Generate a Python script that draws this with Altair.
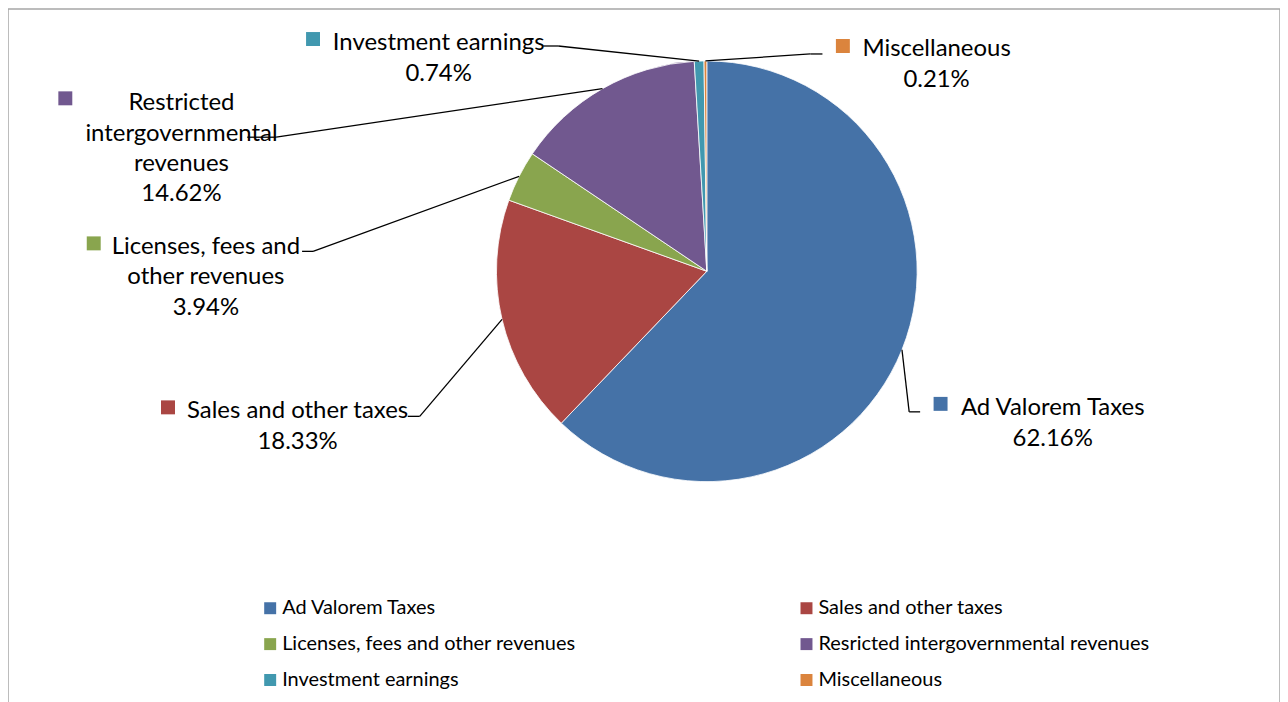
import altair as alt
import pandas as pd

# ---------------- data ----------------
categories = [
    "Ad Valorem Taxes",
    "Sales and other taxes",
    "Licenses, fees and other revenues",
    "Resricted intergovernmental revenues",
    "Investment earnings",
    "Miscellaneous",
]
shares = [62.16, 18.33, 3.94, 14.62, 0.74, 0.21]
label_names = [
    "Ad Valorem Taxes",
    "Sales and other taxes",
    "Licenses, fees and\nother revenues",
    "Restricted\nintergovernmental\nrevenues",
    "Investment earnings",
    "Miscellaneous",
]
colors = ["#4572A7", "#AA4643", "#89A54E", "#71588F", "#4198AF", "#DB843D"]

# ---------------- layout (page pixels) ----------------
OFF = 8
PIE_CX, PIE_CY, PIE_R = 709, 271, 211
text_cx = [1056, 298.5, 206.5, 182, 440, 939.5]
text_base = [415.5, 418.5, 253.5, 109.5, 49.5, 55.5]
square_x = [943.5, 168.5, 94, 65.5, 314, 845.5]
square_y = [404, 407.5, 243, 97.5, 38, 45]
elbow_x = [912, 421, 314, 277, 560, 813]
elbow_y = [412, 416.5, 251, 136.5, 45, 53]
hend_x = [923, 409, 303, 248, 545, 825]

FONT = "Lato"

df = pd.DataFrame({
    "idx": list(range(len(categories))),
    "category": categories,
    "share": shares,
    "text": [n + "\n" + f"{s:.2f}%" for n, s in zip(label_names, shares)],
    "tx": [v - OFF for v in text_cx],
    "ty": [v - OFF for v in text_base],
    "sqx": [v - OFF for v in square_x],
    "sqy": [v - OFF for v in square_y],
    "ex": [v - OFF for v in elbow_x],
    "ey": [v - OFF for v in elbow_y],
    "hx": [v - OFF for v in hend_x],
})

color_scale = alt.Scale(domain=categories, range=colors)
base = alt.Chart(df)

pie = base.mark_arc(radius=PIE_R, stroke="white", strokeWidth=0.8).encode(
    theta=alt.Theta("share:Q", stack=True),
    order=alt.Order("idx:Q"),
    color=alt.Color(
        "category:N",
        scale=color_scale,
        sort=categories,
        legend=alt.Legend(
            title=None,
            orient="none",
            direction="horizontal",
            legendX=253,
            legendY=591,
            columns=2,
            columnPadding=221,
            rowPadding=16,
            symbolType="square",
            symbolSize=144,
            symbolStrokeWidth=0,
            symbolOpacity=1,
            labelFont=FONT,
            labelFontSize=20,
            labelColor="black",
            labelOffset=2,
            labelLimit=600,
            padding=0,
        ),
    ),
    x=alt.value(PIE_CX - OFF),
    y=alt.value(PIE_CY - OFF),
)

leader = (
    base.transform_joinaggregate(total="sum(share)")
    .transform_window(cum="sum(share)", sort=[alt.SortField("idx")], frame=[None, 0])
    .transform_calculate(
        mid="(datum.cum - datum.share/2) / datum.total * 2 * PI",
    )
    .transform_calculate(
        px=f"{PIE_CX - OFF} + {PIE_R} * sin(datum.mid)",
        py=f"{PIE_CY - OFF} - {PIE_R} * cos(datum.mid)",
    )
)

seg1 = leader.mark_rule(color="black", strokeWidth=1.3).encode(
    x=alt.X("px:Q", scale=None, axis=None),
    y=alt.Y("py:Q", scale=None, axis=None),
    x2="ex:Q",
    y2="ey:Q",
)
seg2 = base.mark_rule(color="black", strokeWidth=1.3).encode(
    x=alt.X("ex:Q", scale=None, axis=None),
    x2="hx:Q",
    y=alt.Y("ey:Q", scale=None, axis=None),
)

squares = base.mark_square(size=196, opacity=1).encode(
    x=alt.X("sqx:Q", scale=None, axis=None),
    y=alt.Y("sqy:Q", scale=None, axis=None),
    color=alt.Color("category:N", scale=color_scale, sort=categories),
)

labels = base.mark_text(
    font=FONT,
    fontSize=24,
    align="center",
    baseline="alphabetic",
    lineBreak="\n",
    lineHeight=30.5,
    color="black",
).encode(
    x=alt.X("tx:Q", scale=None, axis=None),
    y=alt.Y("ty:Q", scale=None, axis=None),
    text="text:N",
)

chart = (
    alt.layer(pie, seg1, seg2, squares, labels)
    .properties(
        width=1276,
        height=710,
        padding=0,
        autosize=alt.AutoSizeParams(type="none"),
        background="white",
    )
    .configure_view(stroke="#A6A6A6", strokeWidth=1.5)
)

chart.save("out.html", embed_options={"renderer": "svg", "actions": False})
